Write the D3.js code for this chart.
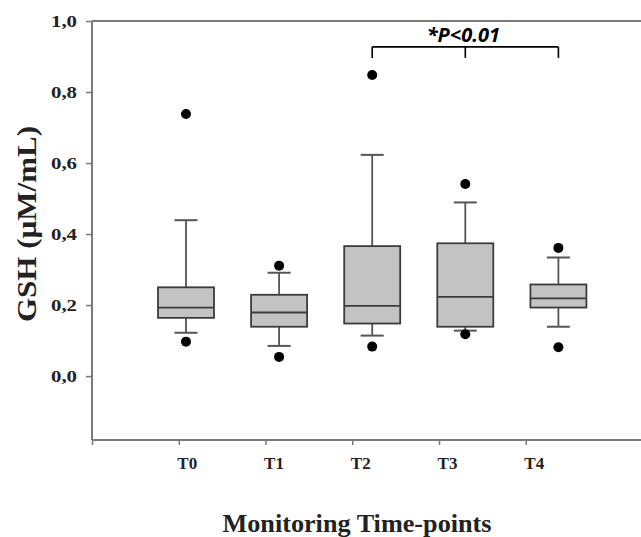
<!DOCTYPE html>
<html>
	<head>
		<meta charset="utf-8">
		<script src="https://d3js.org/d3.v7.min.js"></script>
		<style>
			body { margin: 0; background: #fff; }
			.serif { font-family: "Liberation Serif", "Times New Roman", serif; font-weight: bold; }
		</style>
	</head>
	<body>
		<script type="text/javascript">

			// box plot summary values (GSH, uM/mL)
			var categories = ["T0", "T1", "T2", "T3", "T4"];
			var whiskerLow = [0.122, 0.085, 0.114, 0.128, 0.139];
			var q1 = [0.164, 0.139, 0.148, 0.139, 0.193];
			var median = [0.193, 0.179, 0.198, 0.223, 0.219];
			var q3 = [0.250, 0.229, 0.366, 0.374, 0.258];
			var whiskerHigh = [0.439, 0.291, 0.623, 0.489, 0.334];
			var outlierLow = [0.097, 0.054, 0.083, 0.118, 0.081];
			var outlierHigh = [0.738, 0.311, 0.848, 0.541, 0.361];
			var yTicks = [0, 0.2, 0.4, 0.6, 0.8, 1.0];

			// significance bracket between T2 and T4
			var bracketFrom = 2, bracketMid = 3, bracketTo = 4;
			var bracketTop = 0.927, bracketBottom = 0.896;
			var bracketLabel = "*P<0.01";

			var width = 641, height = 537;
			var svg = d3.select("body")
				.append("svg")
				.attr("width", width)
				.attr("height", height);

			// scales
			var y = d3.scaleLinear().domain([-0.18, 1.0]).range([440, 21]);
			// axis positions (ticks) and box positions differ slightly in the figure
			var xAxisScale = d3.scaleLinear().domain([0, 6.4]).range([92, 92 + 6.4 * 86.75]);
			var xBox = d3.scaleLinear().domain([0, 4]).range([186, 558.4]);
			var boxW = 56, capW = 23;

			var fmt = d3.formatLocale({decimal: ",", thousands: ".", grouping: [3], currency: ["", ""]}).format(".1f");

			// frame line along the top
			var axisColor = "#7a7a7a";
			svg.append("line")
				.attr("x1", 92).attr("x2", width + 5)
				.attr("y1", y(1.0)).attr("y2", y(1.0))
				.style("stroke", axisColor).style("stroke-width", 2);

			// y axis
			var yAxis = svg.append("g")
				.attr("transform", "translate(92,0)")
				.call(d3.axisLeft(y).tickValues(yTicks).tickFormat(fmt).tickSize(6).tickPadding(9));
			yAxis.select(".domain").remove();
			yAxis.append("line")
				.attr("x1", 0).attr("x2", 0)
				.attr("y1", y(1.0)).attr("y2", y(-0.18))
				.style("stroke", axisColor).style("stroke-width", 2);
			yAxis.selectAll(".tick line").style("stroke", axisColor).style("stroke-width", 1.5);
			yAxis.selectAll(".tick text")
				.attr("class", "serif")
				.style("font-size", "16px")
				.attr("textLength", 26)
				.attr("lengthAdjust", "spacingAndGlyphs")
				.attr("fill", "#222");

			// x axis
			var xAxis = svg.append("g")
				.attr("transform", "translate(0,440)")
				.call(d3.axisBottom(xAxisScale)
					.tickValues([0, 1, 2, 3, 4, 5])
					.tickFormat(function(d) { return d === 0 ? "" : categories[d - 1]; })
					.tickSize(5).tickPadding(12));
			xAxis.select(".domain").remove();
			xAxis.append("line")
				.attr("x1", 92).attr("x2", width + 5)
				.attr("y1", 0).attr("y2", 0)
				.style("stroke", axisColor).style("stroke-width", 2);
			xAxis.selectAll(".tick line").style("stroke", axisColor).style("stroke-width", 1.5);
			xAxis.selectAll(".tick text")
				.attr("class", "serif")
				.attr("dx", 8)
				.style("font-size", "17px")
				.attr("fill", "#222");

			// box plots
			var boxes = svg.append("g").selectAll("g")
				.data(categories)
				.enter()
				.append("g");

			var whiskerColor = "#555", boxStroke = "#3c3c3c";
			// whiskers
			boxes.append("line")
				.attr("x1", function(d, i) { return xBox(i); })
				.attr("x2", function(d, i) { return xBox(i); })
				.attr("y1", function(d, i) { return y(whiskerHigh[i]); })
				.attr("y2", function(d, i) { return y(q3[i]); })
				.style("stroke", whiskerColor).style("stroke-width", 1.8);
			boxes.append("line")
				.attr("x1", function(d, i) { return xBox(i); })
				.attr("x2", function(d, i) { return xBox(i); })
				.attr("y1", function(d, i) { return y(q1[i]); })
				.attr("y2", function(d, i) { return y(whiskerLow[i]); })
				.style("stroke", whiskerColor).style("stroke-width", 1.8);
			// caps
			[whiskerHigh, whiskerLow].forEach(function(arr) {
				boxes.append("line")
					.attr("x1", function(d, i) { return xBox(i) - capW / 2; })
					.attr("x2", function(d, i) { return xBox(i) + capW / 2; })
					.attr("y1", function(d, i) { return y(arr[i]); })
					.attr("y2", function(d, i) { return y(arr[i]); })
					.style("stroke", whiskerColor).style("stroke-width", 2);
			});
			// box
			boxes.append("rect")
				.attr("x", function(d, i) { return xBox(i) - boxW / 2; })
				.attr("width", boxW)
				.attr("y", function(d, i) { return y(q3[i]); })
				.attr("height", function(d, i) { return y(q1[i]) - y(q3[i]); })
				.style("fill", "#c3c3c3")
				.style("stroke", boxStroke)
				.style("stroke-width", 1.8);
			// median
			boxes.append("line")
				.attr("x1", function(d, i) { return xBox(i) - boxW / 2; })
				.attr("x2", function(d, i) { return xBox(i) + boxW / 2; })
				.attr("y1", function(d, i) { return y(median[i]); })
				.attr("y2", function(d, i) { return y(median[i]); })
				.style("stroke", boxStroke).style("stroke-width", 1.8);
			// outliers
			[outlierHigh, outlierLow].forEach(function(arr) {
				boxes.append("circle")
					.attr("cx", function(d, i) { return xBox(i); })
					.attr("cy", function(d, i) { return y(arr[i]); })
					.attr("r", 5)
					.style("fill", "#000");
			});

			// significance bracket
			var bx = [bracketFrom, bracketMid, bracketTo];
			var br = svg.append("g");
			br.append("line")
				.attr("x1", xBox(bracketFrom)).attr("x2", xBox(bracketTo))
				.attr("y1", y(bracketTop)).attr("y2", y(bracketTop))
				.style("stroke", "#000").style("stroke-width", 1.6);
			br.selectAll(".drop")
				.data(bx)
				.enter()
				.append("line")
				.attr("x1", function(d) { return xBox(d); })
				.attr("x2", function(d) { return xBox(d); })
				.attr("y1", y(bracketTop))
				.attr("y2", y(bracketBottom))
				.style("stroke", "#000").style("stroke-width", 1.6);
			br.append("text")
				.attr("x", xBox(bracketMid) - 2)
				.attr("y", y(bracketTop) - 5)
				.style("text-anchor", "middle")
				.style("font-family", "'Open Sans', sans-serif")
				.style("font-weight", "bold")
				.style("font-style", "italic")
				.style("font-size", "20px")
				.text(bracketLabel);

			// axis titles
			svg.append("text")
				.attr("class", "serif")
				.attr("transform", "translate(36,224) rotate(-90)")
				.style("text-anchor", "middle")
				.style("font-size", "27px")
				.attr("textLength", 196)
				.attr("lengthAdjust", "spacingAndGlyphs")
				.attr("fill", "#222")
				.text("GSH (\u00b5M/mL)");

			svg.append("text")
				.attr("class", "serif")
				.attr("x", 357)
				.attr("y", 532)
				.style("text-anchor", "middle")
				.style("font-size", "26px")
				.attr("textLength", 269)
				.attr("lengthAdjust", "spacingAndGlyphs")
				.attr("fill", "#222")
				.text("Monitoring Time-points");

		</script>
	</body>
</html>
